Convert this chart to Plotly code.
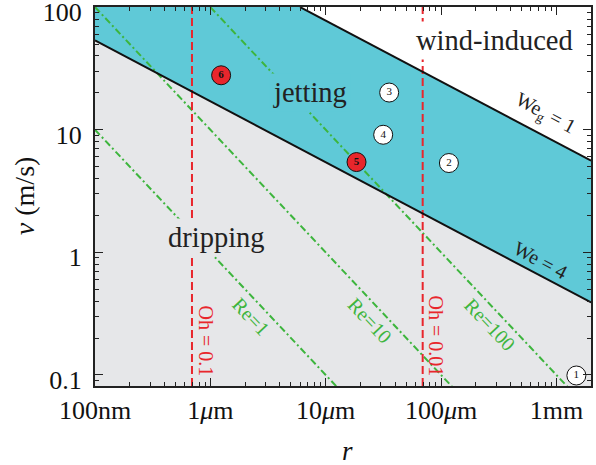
import plotly.graph_objects as go

# ---- data ----
x_tickvals = [1e-7, 1e-6, 1e-5, 1e-4, 1e-3]
x_ticktext = ["100nm", "1<i>μ</i>m", "10<i>μ</i>m", "100<i>μ</i>m", "1mm"]
y_tickvals = [0.1, 1, 10, 100]
y_ticktext = ["0.1", "1", "10", "100"]

# boundary lines (end points)
we4_r = [1e-7, 2e-3]
we4_v = [53.6, 0.39]
weg1_r = [6e-6, 2e-3]
weg1_v = [100, 5.6]

# Reynolds-number lines
re_names = ["Re=1", "Re=10", "Re=100"]
re_r = [[1e-7, 1.25e-5], [1e-7, 1.25e-4], [1e-6, 1.25e-3]]
re_v = [[10, 0.08], [100, 0.08], [100, 0.08]]

# Ohnesorge lines (vertical)
oh_names = ["Oh = 0.1", "Oh = 0.01"]
oh_r = [6.93e-7, 6.93e-5]

# experiment points
pt_labels = ["1", "2", "3", "4", "5", "6"]
pt_r = [1.49e-3, 1.17e-4, 3.55e-5, 3.15e-5, 1.85e-5, 1.24e-6]
pt_v = [0.099, 5.35, 20.1, 9.1, 5.45, 27.8]
pt_red = [False, False, False, False, True, True]

XR = [-7.0, -2.70]
YR = [-1.09, 2.001]
r_lo, r_hi = 10 ** XR[0], 10 ** XR[1]
v_lo, v_hi = 10 ** YR[0], 10 ** YR[1]

GRAY = "#e6e7e9"
CYAN = "#5fc9d7"
RED = "#e8262c"
GREEN = "#3db53d"
FONT = "Liberation Serif"

fig = go.Figure()

# cyan jetting band between We=4 and We_g=1
fig.add_trace(go.Scatter(
    x=[we4_r[0], we4_r[1], weg1_r[1], weg1_r[0], r_lo],
    y=[we4_v[0], we4_v[1], weg1_v[1], weg1_v[0], v_hi],
    fill="toself", fillcolor=CYAN, mode="none", hoverinfo="skip", showlegend=False))
# white wind-induced region above We_g=1
fig.add_trace(go.Scatter(
    x=[weg1_r[0], weg1_r[1], r_hi],
    y=[weg1_v[0], weg1_v[1], v_hi],
    fill="toself", fillcolor="white", mode="none", hoverinfo="skip", showlegend=False))

for rr, vv in zip(re_r, re_v):
    fig.add_trace(go.Scatter(x=rr, y=vv, mode="lines",
                             line=dict(color=GREEN, width=2, dash="7px,3px,2px,3px"),
                             hoverinfo="skip", showlegend=False))
for r0 in oh_r:
    fig.add_trace(go.Scatter(x=[r0, r0], y=[v_lo, v_hi], mode="lines",
                             line=dict(color=RED, width=2, dash="8px,4px"),
                             hoverinfo="skip", showlegend=False))

fig.add_trace(go.Scatter(x=we4_r, y=we4_v, mode="lines",
                         line=dict(color="#111", width=2), showlegend=False))
fig.add_trace(go.Scatter(x=weg1_r, y=weg1_v, mode="lines",
                         line=dict(color="#111", width=2), showlegend=False))

fig.add_trace(go.Scatter(
    x=pt_r, y=pt_v, mode="markers+text",
    text=[f"<b>{t}</b>" if red else t for t, red in zip(pt_labels, pt_red)],
    textposition="middle center",
    textfont=dict(family=FONT, size=11, color="#111"),
    marker=dict(size=19, color=[RED if red else "white" for red in pt_red],
                line=dict(color="#111", width=1)),
    showlegend=False))

# region labels (boxes hide the lines behind them)
def region(text, lx, ly, bg):
    fig.add_annotation(x=lx, y=ly, xref="x", yref="y", text=text, showarrow=False,
                       font=dict(family=FONT, size=28.5, color="#222"),
                       bgcolor=bg, borderpad=3)

region("wind-induced", -3.537, 1.727, "white")
region("jetting", -5.133, 1.306, CYAN)
region("dripping", -5.948, 0.122, GRAY)

def lab(text, lx, ly, ang, color, size=20):
    fig.add_annotation(x=lx, y=ly, xref="x", yref="y", text=text, showarrow=False,
                       textangle=ang, font=dict(family=FONT, size=size, color=color))

lab(re_names[0], -5.644, -0.527, 46.7, GREEN)
lab(re_names[1], -4.612, -0.559, 46.7, GREEN)
lab(re_names[2], -3.572, -0.592, 46.7, GREEN)
lab(oh_names[0], -6.035, -0.722, 90, RED)
lab(oh_names[1], -4.040, -0.682, 90, RED)
lab("We = 4", -3.138, -0.061, 28, "#222")
lab("We<sub>g</sub> = 1", -3.103, 1.131, 28, "#222")

# axis titles
fig.add_annotation(x=0.510, y=-0.2165, xref="paper", yref="paper", text="<i>r</i>",
                   xanchor="center", yanchor="bottom",
                   showarrow=False, font=dict(family=FONT, size=27, color="#111"))
fig.add_annotation(x=-0.143, y=0.501, xref="paper", yref="paper", text="<i>v</i> (m/s)",
                   xanchor="center", yanchor="middle",
                   textangle=-90, showarrow=False, font=dict(family=FONT, size=28, color="#111"))

axis_common = dict(type="log", showgrid=False, zeroline=False, showline=True,
                   linecolor="#222", linewidth=2, mirror="allticks", automargin=False,
                   ticks="inside", ticklen=8, tickwidth=1.2, tickcolor="#222",
                   ticklabeloverflow="allow",
                   tickfont=dict(family=FONT, size=26, color="#111"),
                   minor=dict(ticks="inside", ticklen=4, tickwidth=1, tickcolor="#222",
                              dtick="D1", showgrid=False))

fig.update_xaxes(range=XR, tickmode="array", tickvals=x_tickvals, ticktext=x_ticktext,
                 ticklabelstandoff=0, **axis_common)
fig.update_yaxes(range=YR, tickmode="array", tickvals=y_tickvals, ticktext=y_ticktext,
                 ticklabelstandoff=6, ticklabelshift=5, **axis_common)

fig.update_layout(width=596, height=465, margin=dict(l=95, r=5, t=7, b=79),
                  plot_bgcolor=GRAY, paper_bgcolor="white", showlegend=False)

fig.write_html("out.html", config={"displayModeBar": False},
               post_script="document.body.style.margin='0';")
